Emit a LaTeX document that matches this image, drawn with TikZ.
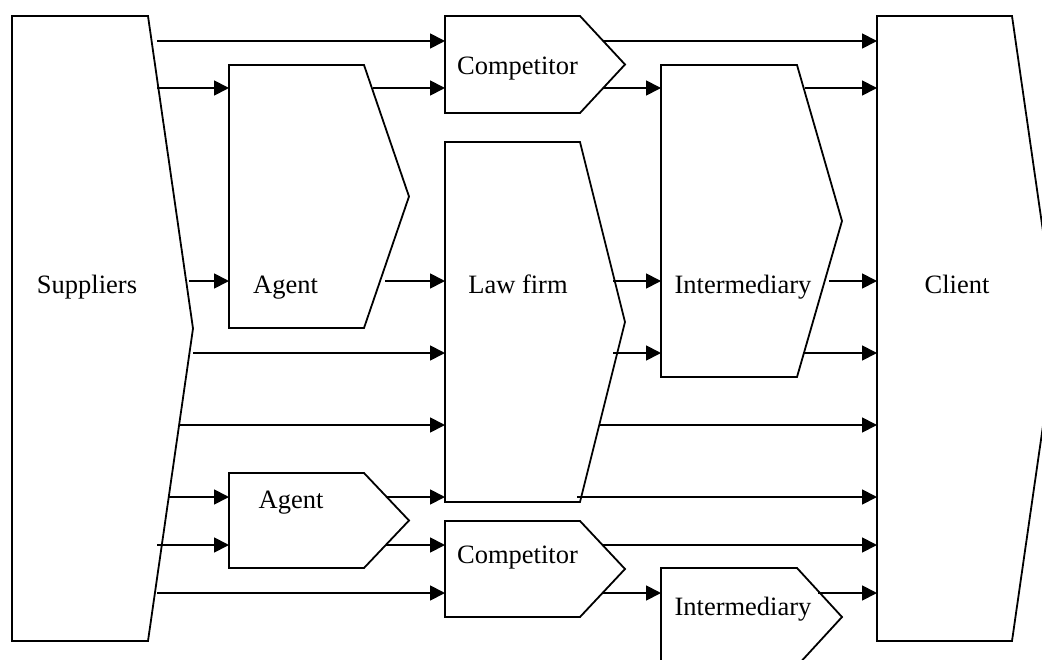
\documentclass[tikz,border=0pt]{standalone}
\usepackage{fontspec}
\setmainfont{Liberation Serif}
\usetikzlibrary{arrows.meta}
\tikzset{
  body/.style={draw=none, inner sep=0pt, outer sep=0pt, shape=rectangle},
  outline/.style={draw=black, line width=1.8bp, line join=miter},
  flow/.style={draw=black, line width=1.8bp, -{Triangle[length=15bp,width=15bp]}},
  lbl/.style={font=\fontsize{26.5bp}{30bp}\selectfont, inner sep=0pt, anchor=base},
}
\newcommand\pentshape[5]{%
  \node[body, minimum width={#4bp-#2bp}, minimum height={#5bp-#3bp}] (#1) at ({(#2+#4)/2},{(#3+#5)/2}) {};
  \draw[outline] (#1.north west) -- (#1.north east) -- ([xshift=45bp]#1.east) -- (#1.south east) -- (#1.south west) -- cycle;
}
\newcommand\flowto[4]{%
  \coordinate (#1) at (#2,#3);
  \draw[flow] (#1) -- (#1 -| #4.west);
}
\begin{document}
\begin{tikzpicture}[x=1bp, y=-1bp]
\useasboundingbox (0,0) rectangle (1042,660);
\fill[white] (0,0) rectangle (1042,660);
\clip (0,0) rectangle (1042,660);

\pentshape{sup}{12}{16}{148}{641}
\pentshape{agent1}{229}{65}{364}{328}
\pentshape{comp1}{445}{16}{580}{113}
\pentshape{law}{445}{142}{580}{502}
\pentshape{inter1}{661}{65}{797}{377}
\pentshape{client}{877}{16}{1012}{641}
\pentshape{agent2}{229}{473}{364}{568}
\pentshape{comp2}{445}{521}{580}{617}
\pentshape{inter2}{661}{568}{797}{666}

\node[lbl] (supT) at (87,293) {Suppliers};
\node[lbl] (agent1T) at (285.5,293) {Agent};
\node[lbl] (comp1T) at (517.5,75) {Competitor};
\node[lbl] (lawT) at (518,293) {Law firm};
\node[lbl] (inter1T) at (743,293) {Intermediary};
\node[lbl] (clientT) at (957,293) {Client};
\node[lbl] (agent2T) at (291,508) {Agent};
\node[lbl] (comp2T) at (517.5,563) {Competitor};
\node[lbl] (inter2T) at (743,615) {Intermediary};

\flowto{f1}{157}{41}{comp1}
\flowto{f2}{157}{88}{agent1}
\flowto{f3}{373}{88}{comp1}
\flowto{f4}{189}{281}{agent1}
\flowto{f5}{385}{281}{law}
\flowto{f6}{603}{41}{client}
\flowto{f7}{603}{88}{inter1}
\flowto{f8}{805}{88}{client}
\flowto{f9}{613}{281}{inter1}
\flowto{f10}{829}{281}{client}
\flowto{f11}{193}{353}{law}
\flowto{f12}{180}{425}{law}
\flowto{f13}{169}{497}{agent2}
\flowto{f14}{157}{545}{agent2}
\flowto{f15}{157}{593}{comp2}
\flowto{f16}{613}{353}{inter1}
\flowto{f17}{804}{353}{client}
\flowto{f18}{600}{425}{client}
\flowto{f19}{577}{497}{client}
\flowto{f20}{386}{497}{law}
\flowto{f21}{602}{545}{client}
\flowto{f22}{386}{545}{comp2}
\flowto{f23}{602}{593}{inter2}
\flowto{f24}{818}{593}{client}
\end{tikzpicture}
\end{document}
